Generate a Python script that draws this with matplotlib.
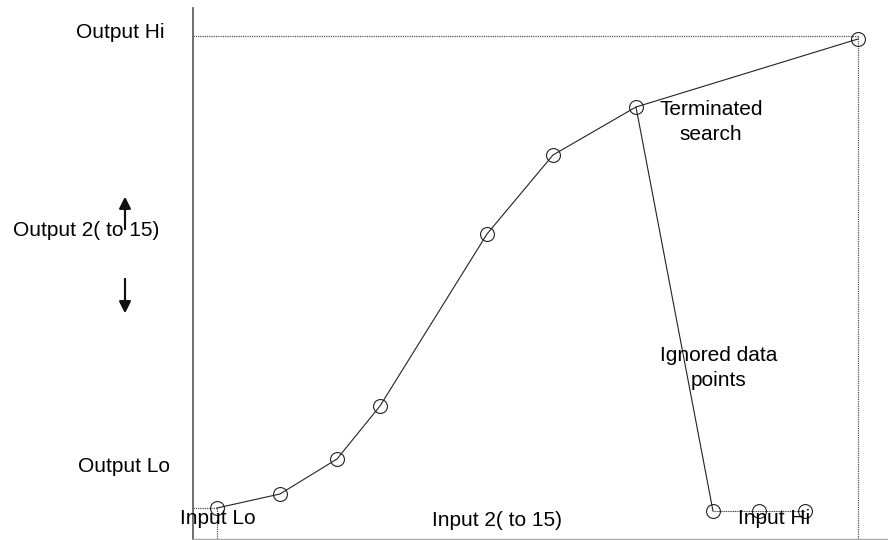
# Curve of output against input, with the search stopped early

import matplotlib.pyplot as plt

plt.rcParams['font.family'] = ['Liberation Sans', 'DejaVu Sans']

# breakpoints that are used (input, output), in chart units
input_vals = [24, 87, 144, 187, 294, 360, 443, 665]
output_vals = [32, 46, 81, 134, 306, 385, 433, 501]

# points after the terminated search
ignored_in = [443, 520, 566, 612]
ignored_out = [433, 29, 29, 29]

input_lo = 24
output_lo_pt = 32
input_hi = 665
output_hi = 504

W, H = 888, 540
fig = plt.figure(figsize=(W / 100, H / 100), dpi=100)
ax = fig.add_axes([193 / W, 1.5 / H, 695 / W, 530.5 / H])
ax.set_xlim(0, 695)
ax.set_ylim(1.5, 532)

for s in ['top', 'right']:
    ax.spines[s].set_visible(False)
ax.spines['left'].set_color('#555555')
ax.spines['left'].set_linewidth(1.2)
ax.spines['bottom'].set_color('#aaaaaa')
ax.spines['bottom'].set_linewidth(1.0)
ax.set_xticks([])
ax.set_yticks([])

# dotted guide lines
dot = dict(color='#555555', linestyle=(0, (1, 0.8)), linewidth=0.9)
ax.plot([0, input_hi], [output_hi, output_hi], **dot)
ax.plot([input_hi, input_hi], [output_hi, 1.5], **dot)
ax.plot([0, input_lo], [output_lo_pt, output_lo_pt], **dot)
ax.plot([input_lo, input_lo], [output_lo_pt, 1.5], **dot)

# the curve
ax.plot(input_vals, output_vals, color='#222222', linewidth=0.8,
        marker='o', markersize=10, markerfacecolor='none',
        markeredgecolor='#222222', markeredgewidth=0.8)

# ignored points
ax.plot(ignored_in[:2], ignored_out[:2], color='#222222', linewidth=0.8)
ax.plot(ignored_in[1:], ignored_out[1:], color='#444444', linewidth=0.8,
        linestyle=(0, (1, 0.6)))
ax.plot(ignored_in[1:], ignored_out[1:], linestyle='none',
        marker='o', markersize=10, markerfacecolor='none',
        markeredgecolor='#222222', markeredgewidth=0.8)


def px(x, y):
    return x / W, 1 - y / H


fs = 15
fig.text(*px(164, 33), 'Output Hi', fontsize=fs, ha='right', va='center')
fig.text(*px(13, 230), 'Output 2( to 15)', fontsize=fs, ha='left', va='center')
fig.text(*px(170, 466), 'Output Lo', fontsize=fs, ha='right', va='center')
fig.text(*px(180, 518), 'Input Lo', fontsize=fs, ha='left', va='center')
fig.text(*px(497, 521), 'Input 2( to 15)', fontsize=fs, ha='center', va='center')
fig.text(*px(738, 518), 'Input Hi', fontsize=fs, ha='left', va='center')
fig.text(*px(711, 122), 'Terminated\nsearch', fontsize=fs, ha='center',
         va='center', linespacing=1.45)
fig.text(*px(719, 368), 'Ignored data\npoints', fontsize=fs, ha='center',
         va='center', linespacing=1.45)

# up / down arrows beside the output label
arr = dict(arrowstyle='-|>', color='#111111', lw=1.5, mutation_scale=17,
           shrinkA=0, shrinkB=0)
fig.add_artist(plt.annotate('', xy=px(125, 197), xytext=px(125, 229),
                            xycoords='figure fraction', arrowprops=arr))
fig.add_artist(plt.annotate('', xy=px(125, 313), xytext=px(125, 279),
                            xycoords='figure fraction', arrowprops=arr))

fig.savefig('out.png', dpi=100)
